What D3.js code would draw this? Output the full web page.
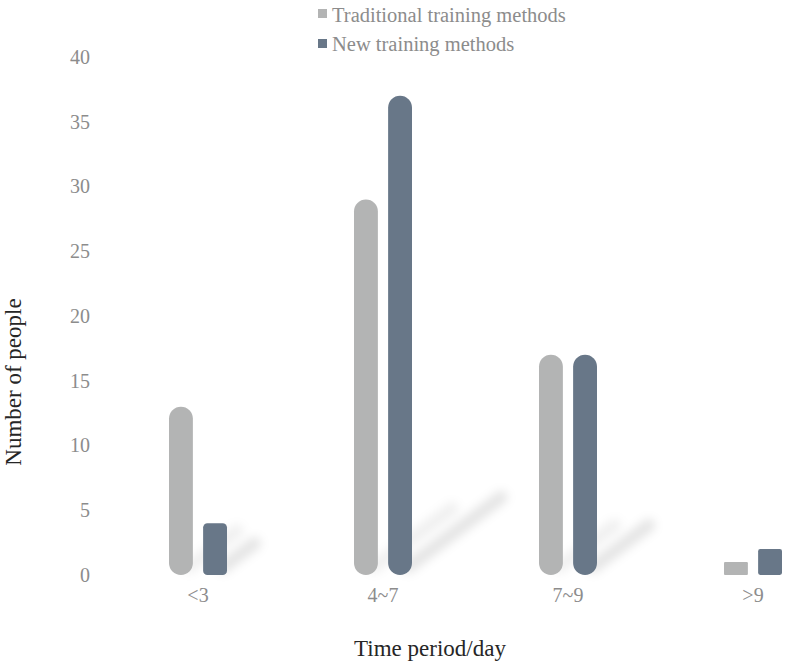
<!DOCTYPE html>
<html><head><meta charset="utf-8">
<script src="https://cdn.jsdelivr.net/npm/d3@7"></script>
<style>body{margin:0;background:#fff}svg{display:block}</style>
</head><body>
<svg id="chart" width="797" height="661"></svg>
<script>
const categories = ["<3", "4~7", "7~9", ">9"];
const seriesNames = ["Traditional training methods", "New training methods"];
const traditional = [13, 29, 17, 1];
const newMethods = [4, 37, 17, 2];
const yTicks = [0, 5, 10, 15, 20, 25, 30, 35, 40];
const colors = ["#b3b4b4", "#687788"];

const svg = d3.select("#chart");
const font = "'Liberation Serif','Times New Roman',serif";

const x = d3.scaleBand().domain(categories).range([105.5, 845.5]);
const y = d3.scaleLinear().domain([0, 40]).range([575, 57]);
const xs = d3.scaleBand().domain([0, 1]).range([-29, 29]).paddingInner(0.3);

const defs = svg.append("defs");
defs.append("filter").attr("id", "blur").attr("x", "-50%").attr("y", "-50%").attr("width", "200%").attr("height", "200%")
  .append("feGaussianBlur").attr("stdDeviation", 5);

const data = categories.map((c, i) => ({cat: c, vals: [traditional[i], newMethods[i]]}));

// shadows
const sh = svg.append("g").attr("filter", "url(#blur)");
data.forEach(d => {
  d.vals.forEach((v, j) => {
    if (v < 3) return;
    const x0 = x(d.cat) + x.bandwidth() / 2 + xs(j) + xs.bandwidth() / 2 + 8;
    const h = y(0) - y(v);
    const len = 30 + h * 0.18;
    sh.append("line")
      .attr("x1", x0).attr("y1", y(0) - 8)
      .attr("x2", x0 + len * 0.8).attr("y2", y(0) - 8 - len * 0.6)
      .attr("stroke", "#000").attr("stroke-opacity", j === 1 ? 0.1 : 0.06)
      .attr("stroke-width", 13).attr("stroke-linecap", "round");
  });
});

// bars
const g = svg.append("g");
data.forEach(d => {
  d.vals.forEach((v, j) => {
    const h = y(0) - y(v);
    const w = xs.bandwidth();
    const r = Math.min(w / 2, h / 12);
    g.append("rect")
      .attr("x", x(d.cat) + x.bandwidth() / 2 + xs(j))
      .attr("y", y(v))
      .attr("width", w)
      .attr("height", h)
      .attr("rx", r).attr("ry", r)
      .attr("fill", colors[j]);
  });
});

// y axis labels
const yAxis = d3.axisLeft(y).tickValues(yTicks).tickSize(0).tickPadding(0);
const ya = svg.append("g").attr("transform", "translate(90,0)").call(yAxis);
ya.select(".domain").remove();
ya.selectAll("text").attr("font-family", font).attr("font-size", 20).attr("fill", "#8c8c8c");

// x axis labels
const xAxis = d3.axisBottom(x).tickSize(0).tickPadding(0);
const xa = svg.append("g").attr("transform", "translate(0,588)").call(xAxis);
xa.select(".domain").remove();
xa.selectAll("text").attr("font-family", font).attr("font-size", 20).attr("fill", "#8c8c8c");

// axis titles
svg.append("text").attr("x", 430).attr("y", 656).attr("text-anchor", "middle")
  .attr("font-family", font).attr("font-size", 23).attr("fill", "#262626").text("Time period/day");
svg.append("text").attr("transform", "translate(21,382) rotate(-90)").attr("text-anchor", "middle")
  .attr("font-family", font).attr("font-size", 23).attr("fill", "#262626").text("Number of people");

// legend
const lg = svg.append("g");
seriesNames.forEach((n, i) => {
  lg.append("rect").attr("x", 318).attr("y", 9 + i * 30).attr("width", 9).attr("height", 9).attr("fill", colors[i]);
  lg.append("text").attr("x", 332).attr("y", 22 + i * 29).attr("font-family", font).attr("font-size", 20.5)
    .attr("fill", "#8c8c8c").text(n);
});
</script>
</body></html>
